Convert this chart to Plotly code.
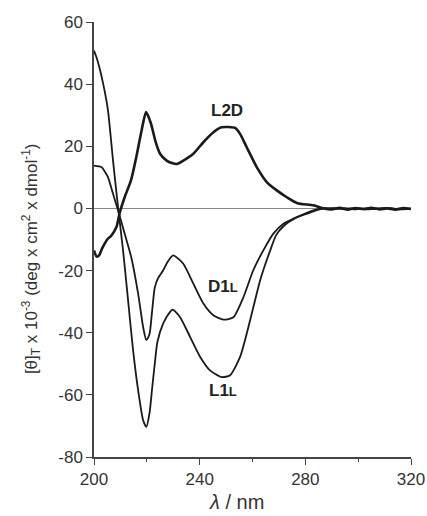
import plotly.graph_objects as go

# ---- data ----
l2d_x = [200, 201, 202, 203, 204, 205, 206.6, 208.5, 209.7, 211.6, 214, 216, 218, 219.7, 221.5, 223.3,
         225, 227.5, 229.5, 231.3, 233.8, 237.6, 241.4, 245.2, 248.3, 251, 253.4, 255.3, 257.8, 261.6,
         265.4, 269.2, 273, 277, 283, 287, 290, 293, 296, 299, 302, 305, 308, 311, 314, 317, 320]
l2d_y = [-13.5, -15.5, -15, -13, -11.4, -10, -8.7, -6, -1.5, 3.6, 9, 16.5, 25, 31, 27.5, 21.5,
         17.6, 15.4, 14.6, 14.3, 15.4, 17.6, 21.3, 24.5, 26.1, 26.2, 25.9, 24, 19.7, 13.3,
         8.5, 5.8, 3.6, 1.7, 1.0, 0, -0.3, 0.2, -0.4, 0.1, -0.2, 0.2, -0.3, 0, -0.4, 0.1, -0.2]

l1l_x = [200, 201, 202, 203.5, 205.3, 207.2, 209.1, 211, 212.9, 214.8, 216.7, 218.6, 219.8, 221, 222,
         223, 224, 226.2, 228.8, 229.8, 232.6, 236.4, 240.2, 243.9, 248.3, 251.5, 255.3, 259.1, 262.9,
         266.7, 269, 272, 276, 280.6, 287, 291, 295, 299, 303, 307, 311, 315, 320]
l1l_y = [50.8, 48.5, 45.5, 40, 31.5, 15.4, 0.4, -13.5, -29.6, -45.7, -58.5, -68.2, -70.3, -66, -58,
         -50, -43, -37, -33.3, -32.6, -35, -41.4, -47.8, -52.1, -54.3, -53.7, -47.8, -36, -23.1,
         -13.5, -8.5, -5.5, -3.2, -1.7, 0, -0.2, 0.1, -0.3, 0, -0.2, 0.1, -0.3, -0.1]

d1l_x = [200, 202.8, 204, 205.3, 207.2, 209.1, 211.6, 214.1, 216.7, 218.6, 219.8, 221, 222, 223,
         224.2, 226.2, 228, 230, 233.8, 237.6, 241.4, 245.2, 249, 252.8, 256.6, 260.3, 264.1, 267.9,
         271.7, 275.5, 283, 287, 291, 295, 299, 303, 307, 311, 315, 320]
d1l_y = [13.8, 13.3, 12, 10.1, 4.7, -0.6, -8.1, -15.7, -27.4, -38.2, -42.4, -40.5, -33, -25.5,
         -22.5, -19.9, -17, -15.1, -17.8, -24.2, -30.6, -34.4, -35.8, -35, -28.5, -19.9, -13.5, -8.1,
         -4.9, -3.3, -0.6, 0, 0.1, -0.2, 0.1, -0.3, 0, 0.2, -0.2, -0.1]

x_ticks = [200, 240, 280, 320]
x_ticktext = ["200", "240", "280", "320"]
y_ticks = [-80, -60, -40, -20, 0, 20, 40, 60]
y_ticktext = ["-80", "-60", "-40", "-20", "0", "20", "40", "60"]

labels = ["<b>L2D</b>", "<b>D1<span style='font-size:13px'>L</span></b>", "<b>L1<span style='font-size:13px'>L</span></b>"]
label_x = [250.4, 248.7, 249]
label_y = [31.5, -25.2, -58.5]

x_title = "<i>λ</i> / nm"
y_title = "[θ]<sub>T</sub> x 10<sup>-3</sup> (deg x cm<sup>2</sup> x dmol<sup>-1</sup>)"

FONT = "Liberation Sans, Arial, sans-serif"
LINE = "#1a1a1a"

fig = go.Figure()
fig.add_trace(go.Scatter(x=l1l_x, y=l1l_y, mode="lines", line=dict(color=LINE, width=1.8, shape="spline", smoothing=0.6)))
fig.add_trace(go.Scatter(x=d1l_x, y=d1l_y, mode="lines", line=dict(color=LINE, width=1.8, shape="spline", smoothing=0.6)))
fig.add_trace(go.Scatter(x=l2d_x, y=l2d_y, mode="lines", line=dict(color=LINE, width=2.6, shape="spline", smoothing=0.6)))

for t, xx, yy in zip(labels, label_x, label_y):
    fig.add_annotation(x=xx, y=yy, text=t, showarrow=False, font=dict(family=FONT, size=17, color="#222"))

# axis titles placed as annotations (reference places the x title left of centre)
fig.add_annotation(xref="paper", yref="paper", x=0.448, y=-0.103, xanchor="center", yanchor="middle",
                   text=x_title, showarrow=False, font=dict(family=FONT, size=20, color="#333"))
fig.add_annotation(xref="paper", yref="paper", x=-0.199, y=0.457, xanchor="center", yanchor="middle",
                   text=y_title, textangle=-90, showarrow=False, font=dict(family=FONT, size=17, color="#333"))

fig.update_layout(
    width=427, height=516,
    margin=dict(l=94, r=16, t=22, b=59),
    paper_bgcolor="white", plot_bgcolor="white",
    showlegend=False,
    font=dict(family=FONT, size=17, color="#333"),
    xaxis=dict(
        range=[200, 320], tickvals=x_ticks, ticktext=x_ticktext, ticks="outside", ticklen=6, tickwidth=1.3, tickcolor="#444",
        showline=True, linecolor="#444", linewidth=1.5, showgrid=False, zeroline=False, automargin=False,
        minor=dict(ticks="outside", ticklen=3, tickwidth=1.3, tickcolor="#444", dtick=20, tick0=200, showgrid=False),
    ),
    yaxis=dict(
        range=[-80, 60], tickvals=y_ticks, ticktext=y_ticktext, ticks="outside", ticklen=6, tickwidth=1.3, tickcolor="#444",
        showline=True, linecolor="#444", linewidth=1.5, showgrid=False, automargin=False,
        zeroline=True, zerolinecolor="#888", zerolinewidth=1,
    ),
)

fig.write_html("out.html")
